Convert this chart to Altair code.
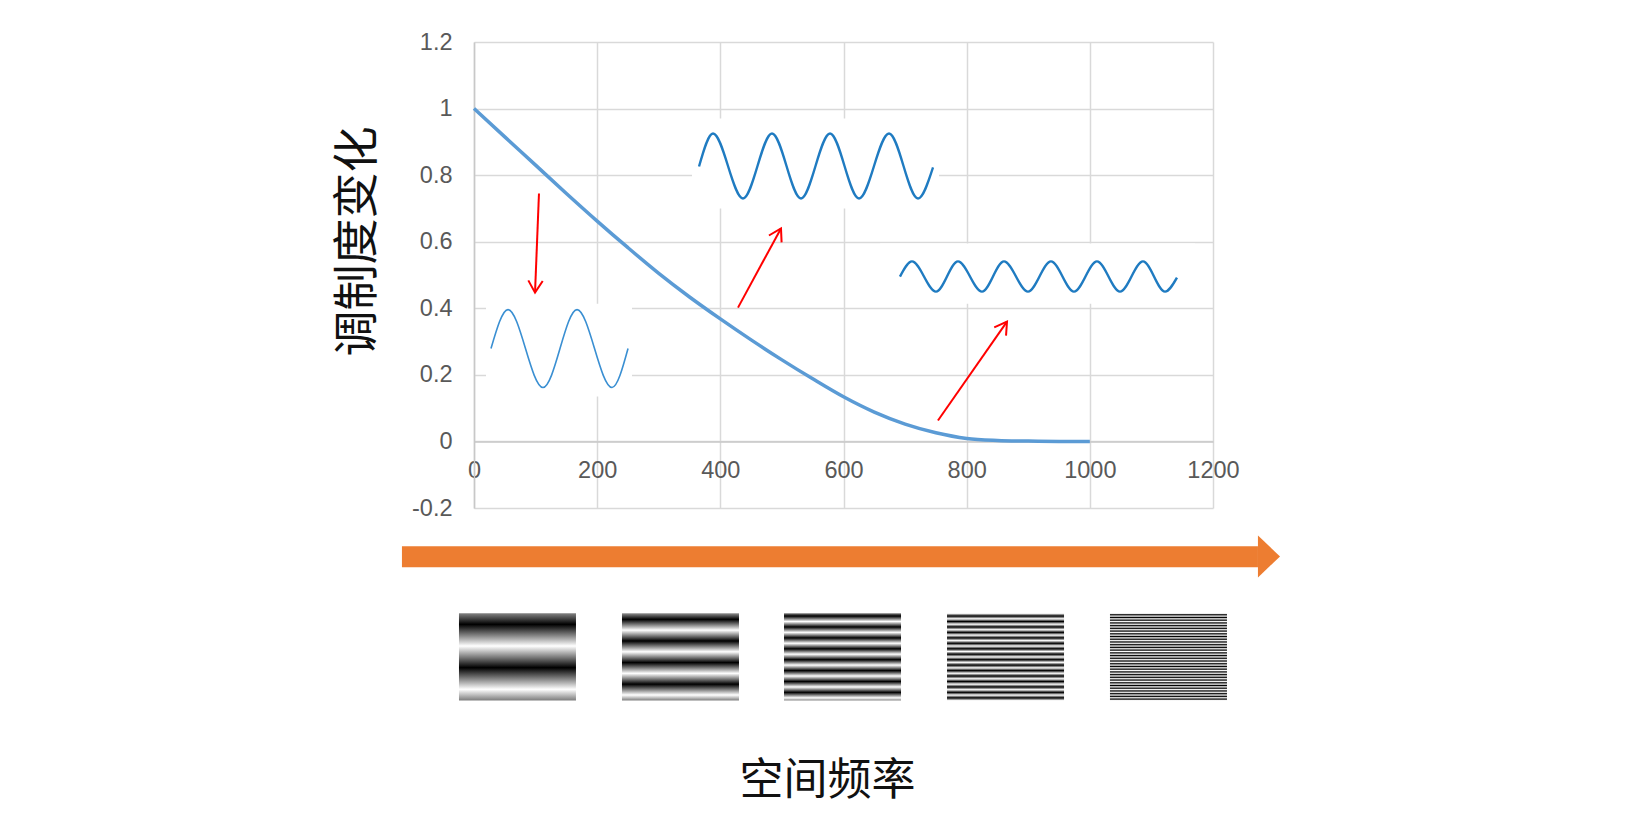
import math
import altair as alt
import pandas as pd

# ---------------- data ----------------
freq = [0, 50, 100, 150, 200, 250, 300, 350, 400, 450, 500,
        550, 600, 650, 700, 750, 800, 850, 900, 950, 1000]
mod = [1.0, 0.915, 0.83, 0.745, 0.662, 0.582, 0.505, 0.434, 0.368, 0.305, 0.245,
       0.188, 0.134, 0.088, 0.052, 0.026, 0.009, 0.003, 0.001, 0.0, 0.0]

x_ticks = [0, 200, 400, 600, 800, 1000, 1200]
y_ticks = [-0.2, 0, 0.2, 0.4, 0.6, 0.8, 1.0, 1.2]

# inset sine sketches: start, extrema..., end
wave1_x = [27.6, 55.2, 112.0, 167.3, 224.1, 250.1]
wave1_y = [0.279, 0.396, 0.162, 0.396, 0.162, 0.279]
wave2_x = [365.4, 388.1, 436.8, 483.9, 531.0, 578.1, 625.2, 673.9, 721.0, 745.3]
wave2_y = [0.826, 0.925, 0.730, 0.925, 0.730, 0.925, 0.730, 0.925, 0.730, 0.823]
wave3_x = [691.7, 711.2, 750.2, 785.9, 824.9, 860.6, 899.6, 936.9, 974.3,
           1011.6, 1049.0, 1086.3, 1122.1, 1141.5]
wave3_y = [0.495, 0.541, 0.450, 0.541, 0.450, 0.541, 0.450, 0.541, 0.450,
           0.541, 0.450, 0.541, 0.450, 0.492]

# white backgrounds of the insets
box_x = [19.5, 354.0, 659.3]
box_x2 = [256.6, 755.1, 1170.8]
box_y = [0.414, 0.970, 0.595]
box_y2 = [0.135, 0.700, 0.414]

# red arrows
arrow_x = [105.5, 428.7, 753.4]
arrow_y = [0.745, 0.402, 0.063]
arrow_tip_x = [99.1, 498.5, 865.5]
arrow_tip_y = [0.447, 0.640, 0.360]

# orange arrow
band_x = [-117.0]
band_x2 = [1273.0]
band_y = [-0.315]
band_y2 = [-0.378]
head_x = [1273.0]
head_y = [-0.3455]

# gratings
grating_x = [-24.4, 240.3, 503.4, 768.1, 1032.7]
grating_w = 190.0
grating_top = -0.5165
grating_bottom = -0.778
grating_period_px = [43.3, 21.6, 10.9, 5.45, 2.72]
grating_first_dark_px = [11.0, 6.0, 2.7, 2.7, 1.4]
grating_height_px = 87.0

# ---------------- scales / axes ----------------
W, H = 739, 466
PX_X = W / 1200.0
PX_Y = H / 1.4

xs = alt.Scale(domain=[0, 1200], nice=False, zero=False)
ys = alt.Scale(domain=[-0.2, 1.2], nice=False, zero=False)

GRID = "#d9d9d9"
LABEL = "#595959"

xaxis = alt.Axis(values=x_ticks, format="d", grid=True, gridColor=GRID, gridWidth=1.5,
                 domainColor="#c8c8c8", domainWidth=1.5, ticks=False, tickSize=0,
                 labelFont="Liberation Sans", labelFontSize=23.5, labelColor=LABEL,
                 labelBaseline="middle", labelPadding=29, labelFlush=False, labelOverlap=False,
                 offset=-(H - 1.2 / 1.4 * H),
                 title="空间频率", titleFont="Noto Sans CJK SC", titleFontSize=44,
                 titleFontWeight="normal", titleColor="#111111",
                 titleX=353, titleY=340, titleAlign="center", titleBaseline="middle",
                 zindex=0)
yaxis = alt.Axis(values=y_ticks, grid=True, gridColor=GRID, gridWidth=1.5,
                 domainColor="#c8c8c8", domainWidth=1.5, ticks=False, tickSize=0,
                 labelExpr="datum.value < 0 ? '-' + format(-datum.value, '.1~f') : format(datum.value, '.1~f')",
                 labelFont="Liberation Sans", labelFontSize=23.5, labelColor=LABEL,
                 labelPadding=22, labelFlush=False, labelOverlap=False,
                 title="调制度变化", titleFont="Noto Sans CJK SC", titleFontSize=46,
                 titleFontWeight="normal", titleColor="#111111", titleAngle=270,
                 titleX=-117, titleY=199, titleAlign="center", titleBaseline="middle",
                 zindex=0)

X = alt.X("x:Q", scale=xs, axis=xaxis)
Y = alt.Y("y:Q", scale=ys, axis=yaxis)

# ---------------- layers ----------------
curve = alt.Chart(pd.DataFrame({"x": freq, "y": mod})).mark_line(
    color="#5b9bd5", strokeWidth=3.5, interpolate="monotone").encode(x=X, y=Y)

boxes = alt.Chart(pd.DataFrame({"x": box_x, "x2": box_x2, "y": box_y, "y2": box_y2})).mark_rect(
    color="white").encode(x=X, x2="x2:Q", y=Y, y2="y2:Q")

w1 = alt.Chart(pd.DataFrame({"x": wave1_x, "y": wave1_y})).mark_line(
    color="#3a8fd2", strokeWidth=1.6, interpolate="monotone").encode(x=X, y=Y)
w2 = alt.Chart(pd.DataFrame({"x": wave2_x, "y": wave2_y})).mark_line(
    color="#1f7bc1", strokeWidth=2.4, interpolate="monotone").encode(x=X, y=Y)
w3 = alt.Chart(pd.DataFrame({"x": wave3_x, "y": wave3_y})).mark_line(
    color="#1f7bc1", strokeWidth=2.4, interpolate="monotone").encode(x=X, y=Y)

angles = []
for sx, sy, tx, ty in zip(arrow_x, arrow_y, arrow_tip_x, arrow_tip_y):
    dx = (tx - sx) * PX_X
    dy = -(ty - sy) * PX_Y
    angles.append(math.degrees(math.atan2(dx, -dy)) % 360)

shafts = alt.Chart(pd.DataFrame({"x": arrow_x, "y": arrow_y, "x2": arrow_tip_x, "y2": arrow_tip_y})).mark_rule(
    color="#ff0000", strokeWidth=2).encode(x=X, y=Y, x2="x2:Q", y2="y2:Q")
heads = alt.Chart(pd.DataFrame({"x": arrow_tip_x, "y": arrow_tip_y, "ang": angles})).mark_point(
    shape="M -0.6 1 L 0 0 L 0.6 1", filled=False, size=576, color="#ff0000",
    strokeWidth=2, opacity=1).encode(x=X, y=Y, angle=alt.Angle("ang:Q", scale=None))

band = alt.Chart(pd.DataFrame({"x": band_x, "x2": band_x2, "y": band_y, "y2": band_y2})).mark_rect(
    color="#ed7d31").encode(x=X, x2="x2:Q", y=Y, y2="y2:Q")
band_head = alt.Chart(pd.DataFrame({"x": head_x, "y": head_y})).mark_point(
    shape="M 0 -1 L 1.05 0 L 0 1 Z", filled=True, size=1764, color="#ed7d31",
    strokeWidth=0, opacity=1).encode(x=X, y=Y)


def gray_hex(v):
    g = max(0, min(255, round(255 * v)))
    return "#{0:02x}{0:02x}{0:02x}".format(g)


def grating_gradient(period, first_dark, height):
    half = period / 2.0

    def val(p):
        t = (p - first_dark) / half
        j = math.floor(t)
        f = t - j
        v0 = 0.0 if j % 2 == 0 else 1.0
        return v0 + ((1.0 - v0) - v0) * f

    offs = [0.0]
    j = math.ceil((0 - first_dark) / half)
    while True:
        p = first_dark + j * half
        if p >= height:
            break
        if p > 0:
            offs.append(p)
        j += 1
    offs.append(height)
    stops = [alt.GradientStop(color=gray_hex(val(min(p, height - 1e-6))), offset=p / height) for p in offs]
    return alt.LinearGradient(gradient="linear", stops=stops, x1=0, x2=0, y1=0, y2=1)


gratings = []
for gx, per, fd in zip(grating_x, grating_period_px, grating_first_dark_px):
    df = pd.DataFrame({"x": [gx], "x2": [gx + grating_w], "y": [grating_top], "y2": [grating_bottom]})
    gratings.append(
        alt.Chart(df).mark_rect(color=grating_gradient(per, fd, grating_height_px)).encode(
            x=X, x2="x2:Q", y=Y, y2="y2:Q"))

chart = alt.layer(curve, boxes, w1, w2, w3, shafts, heads, band, band_head, *gratings).properties(
    width=W, height=H,
    autosize=alt.AutoSizeParams(type="none"),
    padding={"left": 466, "top": 34, "right": 300, "bottom": 305},
).configure_view(stroke=None)

chart.save("out.html", embed_options={"renderer": "svg", "actions": False})
